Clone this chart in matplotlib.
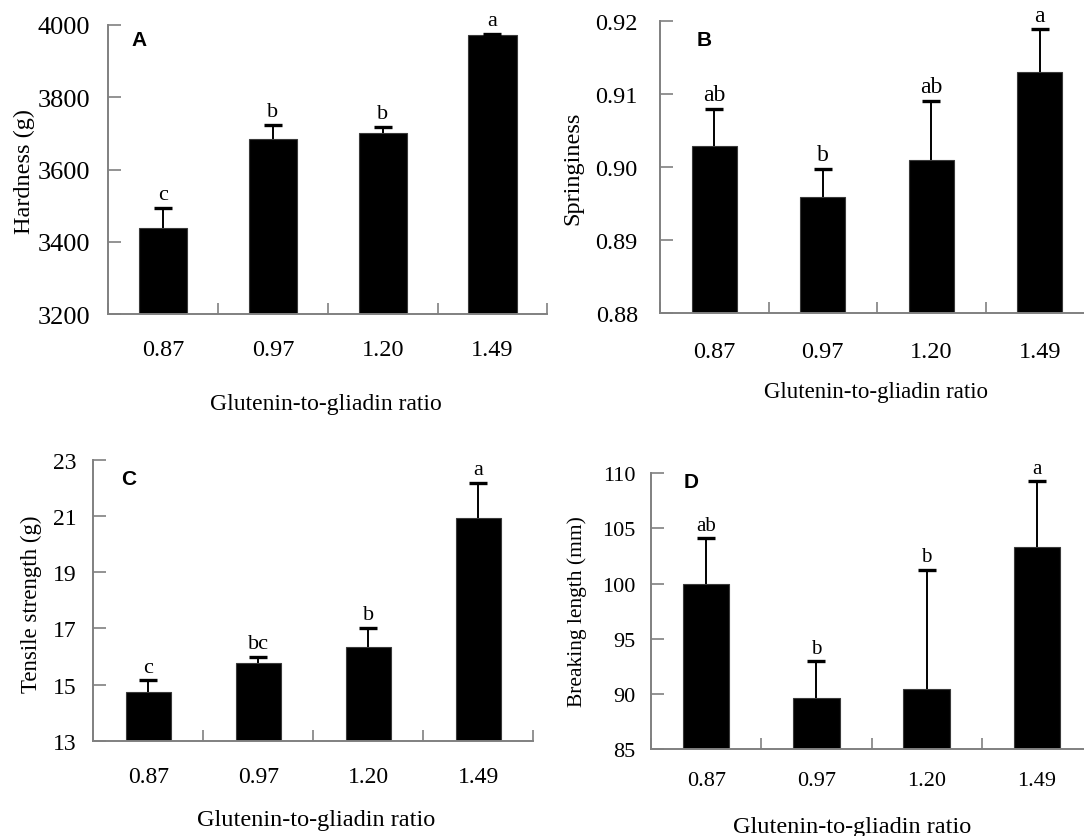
import numpy as np
import matplotlib
matplotlib.use("Agg")
import matplotlib.pyplot as plt
from matplotlib.ticker import FixedLocator

# ---------------- data ----------------
ratios = ["0.87", "0.97", "1.20", "1.49"]

hardness = [3439, 3684, 3701, 3971]
hardness_err = [55, 40, 17, 5]
hardness_letters = ["c", "b", "b", "a"]

springiness = [0.9029, 0.8960, 0.9010, 0.9130]
springiness_err = [0.0051, 0.0038, 0.0081, 0.0059]
springiness_letters = ["ab", "b", "ab", "a"]

tensile = [14.75, 15.78, 16.34, 20.93]
tensile_err = [0.40, 0.20, 0.68, 1.25]
tensile_letters = ["c", "bc", "b", "a"]

breaking = [99.96, 89.62, 90.44, 103.35]
breaking_err = [4.17, 3.36, 10.8, 5.95]
breaking_letters = ["ab", "b", "b", "a"]

xlabel_text = "Glutenin-to-gliadin ratio"

# ---------------- figure ----------------
W, H = 1084, 837
fig = plt.figure(figsize=(W / 100, H / 100), dpi=100)
SERIF = ["Liberation Serif", "DejaVu Serif"]
SANS = ["Liberation Sans", "DejaVu Sans"]
GRAY = "#808080"


def px_rect(x0, x1, ytop, ybot):
    return [x0 / W, 1 - ybot / H, (x1 - x0) / W, (ybot - ytop) / H]


def panel(rect, values, errs, letters, ylim, yticks, yfmt, ylabel, tag,
          tag_xy, ylab_xy, xlab_xy, ytick_fs, xtick_fs, ylab_fs, xlab_fs,
          letter_fs, ypad, xpad, barw):
    ax = fig.add_axes(rect)
    x = np.arange(len(ratios))
    vals = np.asarray(values, dtype=float)
    er = np.asarray(errs, dtype=float)
    ax.bar(x, vals, width=barw, color="black", edgecolor="#3a3a3a",
           linewidth=0.8, zorder=2)
    # upper error stems and caps only
    ax.errorbar(x, vals, yerr=[np.zeros(len(er)), er], fmt="none",
                ecolor="black", elinewidth=1.4, capsize=0, zorder=3)
    ax.plot(x, vals + er, ls="none", marker="_", markersize=13,
            markeredgewidth=2.4, color="black", zorder=3)
    for xi, v, e, l in zip(x, vals, er, letters):
        ax.annotate(l, (xi, v + e), xytext=(0, 2.5), textcoords="offset points",
                    ha="center", va="bottom", fontsize=letter_fs, family=SERIF)
    ax.set_xlim(-0.5, len(ratios) - 0.5)
    ax.set_ylim(*ylim)
    ax.set_yticks(yticks)
    ax.set_yticklabels([yfmt.format(t) for t in yticks], family=SERIF,
                       fontsize=ytick_fs)
    ax.set_xticks(x)
    ax.set_xticklabels(ratios, family=SERIF, fontsize=xtick_fs)
    ax.xaxis.set_minor_locator(FixedLocator(np.arange(-0.5, len(ratios), 1.0)))
    ax.tick_params(axis="x", which="major", length=0, pad=xpad)
    ax.tick_params(axis="x", which="minor", direction="in", length=8,
                   width=1.2, color=GRAY)
    ax.tick_params(axis="y", direction="in", length=9, width=1.2, color=GRAY,
                   pad=ypad)
    for s in ("top", "right"):
        ax.spines[s].set_visible(False)
    for s in ("left", "bottom"):
        ax.spines[s].set_color(GRAY)
        ax.spines[s].set_linewidth(1.4)
    ax.set_ylabel(ylabel, family=SERIF, fontsize=ylab_fs, va="center",
                  ha="center")
    ax.yaxis.set_label_coords(ylab_xy[0] / W, 1 - ylab_xy[1] / H,
                              transform=fig.transFigure)
    ax.set_xlabel(xlabel_text, family=SERIF, fontsize=xlab_fs, va="center",
                  ha="center")
    ax.xaxis.set_label_coords(xlab_xy[0] / W, 1 - xlab_xy[1] / H,
                              transform=fig.transFigure)
    fig.text(tag_xy[0] / W, 1 - tag_xy[1] / H, tag, family=SANS,
             fontweight="bold", fontsize=15, ha="center", va="center")
    return ax


panel(px_rect(108.3, 547.3, 26, 315), hardness, hardness_err, hardness_letters,
      (3200, 4000), [3200, 3400, 3600, 3800, 4000], "{:.0f}", "Hardness (g)",
      "A", (139, 41), (24, 172), (326, 405), 19, 17.5, 17.5, 17, 16, 13, 18, 0.44)

panel(px_rect(660, 1094, 22.3, 314.3), springiness, springiness_err,
      springiness_letters, (0.88, 0.92), [0.88, 0.89, 0.90, 0.91, 0.92],
      "{:.2f}", "Springiness", "B", (704, 40), (573, 168), (876, 393),
      17.5, 17.5, 17.5, 16.5, 17, 16, 20, 0.415)

panel(px_rect(93.3, 533.3, 460.7, 741.7), tensile, tensile_err,
      tensile_letters, (13, 23), [13, 15, 17, 19, 21, 23], "{:.0f}",
      "Tensile strength (g)", "C", (129, 480), (31, 604), (316, 821),
      17, 17, 16.5, 17.5, 16, 12, 18, 0.41)

panel(px_rect(651, 1092, 474.3, 750), breaking, breaking_err,
      breaking_letters, (85, 110), [85, 90, 95, 100, 105, 110], "{:.0f}",
      "Breaking length (mm)", "D", (691, 483), (577, 612), (852, 828),
      16, 16, 15.5, 17.5, 15, 11, 16, 0.42)

fig.savefig("out.png", dpi=100)
